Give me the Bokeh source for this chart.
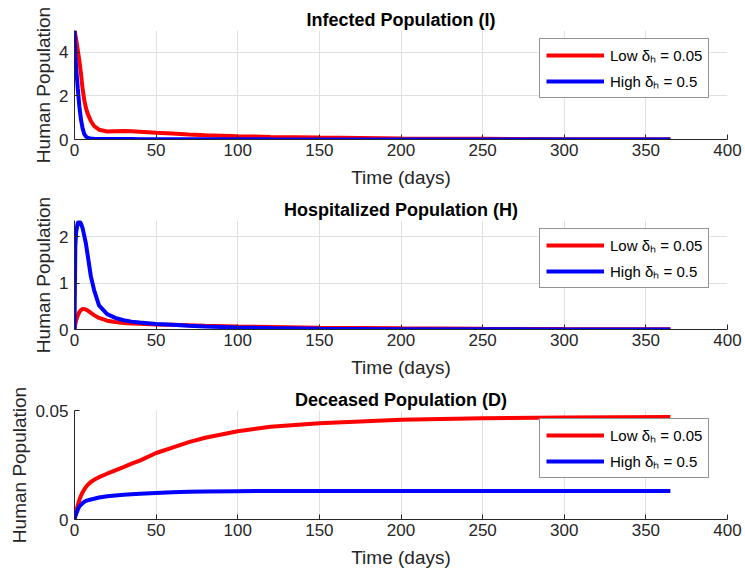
from bokeh.plotting import figure
from bokeh.layouts import column
from bokeh.models import Range1d, FixedTicker, Legend, LegendItem
from bokeh.embed import file_html
from bokeh.resources import INLINE

# ---- data ----
t = [0, 0.5, 1, 2, 3, 4, 5, 6, 7, 8, 10, 12, 15, 20, 25, 30, 35, 40, 50, 60, 70, 80,
     100, 120, 150, 200, 250, 300, 365]

I_low = [5.0, 4.8, 4.6, 4.1, 3.6, 3.0, 2.3, 1.8, 1.45, 1.2, 0.85, 0.62, 0.45, 0.37, 0.38,
         0.39, 0.38, 0.36, 0.31, 0.27, 0.23, 0.2, 0.15, 0.12, 0.09, 0.05, 0.03, 0.015, 0.008]
I_high = [5.0, 3.8, 3.3, 2.35, 1.5, 0.9, 0.5, 0.25, 0.14, 0.08, 0.04, 0.03, 0.025, 0.02,
          0.02, 0.02, 0.018, 0.016, 0.014, 0.012, 0.011, 0.01, 0.008, 0.006, 0.004, 0.002,
          0.001, 0.0005, 0.0]

H_low = [0.0, 0.12, 0.2, 0.3, 0.38, 0.42, 0.44, 0.44, 0.43, 0.41, 0.36, 0.31, 0.25, 0.19,
         0.16, 0.14, 0.13, 0.125, 0.11, 0.1, 0.09, 0.08, 0.065, 0.055, 0.04, 0.025, 0.015,
         0.01, 0.006]
H_high = [0.0, 1.8, 2.1, 2.3, 2.33, 2.28, 2.18, 2.02, 1.85, 1.62, 1.15, 0.85, 0.52, 0.33,
          0.25, 0.2, 0.17, 0.15, 0.12, 0.1, 0.08, 0.065, 0.045, 0.03, 0.018, 0.008, 0.004,
          0.002, 0.001]

D_low = [0.0, 0.002, 0.0035, 0.0065, 0.009, 0.011, 0.0125, 0.0138, 0.0149, 0.0158, 0.0172,
         0.0182, 0.0194, 0.021, 0.0225, 0.024, 0.0256, 0.027, 0.0305, 0.033, 0.0355, 0.0375,
         0.0405, 0.0425, 0.0442, 0.0458, 0.0465, 0.0468, 0.047]
D_high = [0.0, 0.0015, 0.0025, 0.0045, 0.006, 0.0068, 0.0075, 0.0081, 0.0085, 0.0088, 0.0092,
          0.0095, 0.0101, 0.0107, 0.011, 0.0113, 0.0116, 0.0118, 0.0122, 0.0125, 0.0127,
          0.0128, 0.013, 0.0131, 0.0131, 0.0131, 0.0131, 0.0131, 0.0131]

titles = ["Infected Population (I)", "Hospitalized Population (H)", "Deceased Population (D)"]
series_low = [I_low, H_low, D_low]
series_high = [I_high, H_high, D_high]
y_max = [5.0, 2.35, 0.05]
y_ticks = [[0, 2, 4], [0, 1, 2], [0, 0.05]]
x_ticks = [0, 50, 100, 150, 200, 250, 300, 350, 400]
labels = ["Low \u03b4\u2095 = 0.05", "High \u03b4\u2095 = 0.5"]

FONT = "Liberation Sans"
DARK = "#262626"

figs = []
for i in range(3):
    p = figure(width=745, height=190, output_backend="svg", toolbar_location=None,
               x_range=Range1d(0, 400), y_range=Range1d(0, y_max[i]),
               min_border_left=74, min_border_right=18,
               min_border_top=30, min_border_bottom=51)
    p.title.text = titles[i]
    p.title.align = "center"
    p.title.text_font = FONT
    p.title.text_font_size = "18px"
    p.title.text_font_style = "bold"
    p.title.text_color = "#000000"
    p.title.offset = 0
    p.title.standoff = 2
    p.outline_line_color = None
    p.background_fill_color = "white"

    for ax in (p.xaxis[0], p.yaxis[0]):
        ax.axis_line_color = DARK
        ax.major_tick_line_color = DARK
        ax.major_tick_in = 5
        ax.major_tick_out = 0
        ax.minor_tick_line_color = None
        ax.major_label_text_font = FONT
        ax.major_label_text_font_size = "17px"
        ax.major_label_text_color = DARK
        ax.axis_label_text_font = FONT
        ax.axis_label_text_font_size = "19px"
        ax.axis_label_text_font_style = "normal"
        ax.axis_label_text_color = DARK
    p.xaxis[0].ticker = FixedTicker(ticks=x_ticks)
    p.yaxis[0].ticker = FixedTicker(ticks=y_ticks[i])
    p.xaxis[0].axis_label = "Time (days)"
    p.yaxis[0].axis_label = "Human Population"
    p.xaxis[0].axis_label_standoff = 8
    p.yaxis[0].axis_label_standoff = 2
    p.xaxis[0].major_label_standoff = 4
    p.yaxis[0].major_label_standoff = 6

    p.xgrid[0].ticker = FixedTicker(ticks=x_ticks)
    p.ygrid[0].ticker = FixedTicker(ticks=y_ticks[i])
    p.xgrid[0].grid_line_color = "#e0e0e0"
    p.ygrid[0].grid_line_color = "#e0e0e0"

    r1 = p.line(t, series_low[i], line_color="#ff0000", line_width=4)
    r2 = p.line(t, series_high[i], line_color="#0000ff", line_width=4)

    leg = Legend(items=[LegendItem(label=labels[0], renderers=[r1]),
                        LegendItem(label=labels[1], renderers=[r2])],
                 location=(465, 41))
    leg.margin = 0
    leg.padding = 6
    leg.spacing = 6
    leg.glyph_width = 58
    leg.glyph_height = 20
    leg.label_text_font = FONT
    leg.label_text_font_size = "15px"
    leg.label_text_color = "#000000"
    leg.label_standoff = 6
    leg.border_line_color = DARK
    leg.border_line_width = 1
    leg.background_fill_color = "white"
    leg.background_fill_alpha = 1.0
    p.add_layout(leg, "center")
    figs.append(p)

layout = column(*figs, spacing=0)
open("out.html", "w").write(file_html(layout, INLINE))
